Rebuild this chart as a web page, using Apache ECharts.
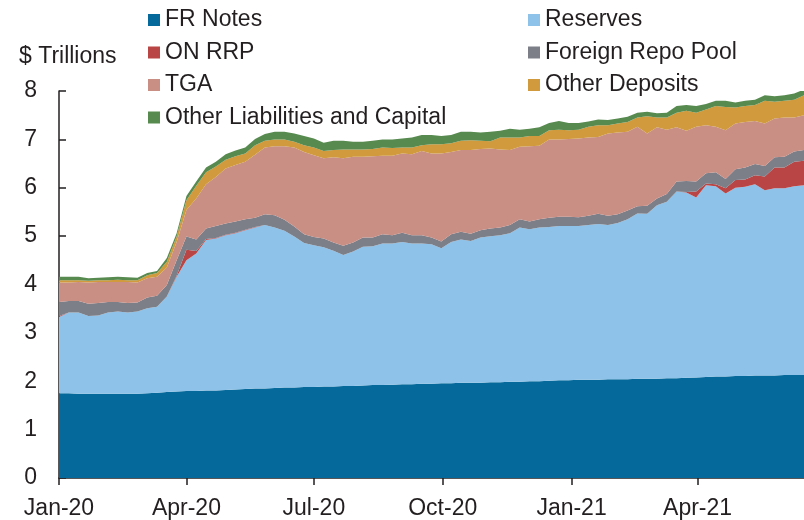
<!DOCTYPE html>
<html>
<head>
<meta charset="utf-8">
<script src="https://cdn.jsdelivr.net/npm/echarts@6/dist/echarts.min.js"></script>
<style>
  html, body { margin: 0; padding: 0; background: #fff; }
  #chart { width: 804px; height: 520px; }
</style>
</head>
<body>
<div id="chart"></div>
<script>
// weekly dates (Wednesdays)
var dates = [
  '2020-01-01','2020-01-08','2020-01-15','2020-01-22','2020-01-29','2020-02-05','2020-02-12','2020-02-19','2020-02-26',
  '2020-03-04','2020-03-11','2020-03-18','2020-03-25','2020-04-01','2020-04-08','2020-04-15','2020-04-22','2020-04-29',
  '2020-05-06','2020-05-13','2020-05-20','2020-05-27','2020-06-03','2020-06-10','2020-06-17','2020-06-24',
  '2020-07-01','2020-07-08','2020-07-15','2020-07-22','2020-07-29','2020-08-05','2020-08-12','2020-08-19','2020-08-26',
  '2020-09-02','2020-09-09','2020-09-16','2020-09-23','2020-09-30','2020-10-07','2020-10-14','2020-10-21','2020-10-28',
  '2020-11-04','2020-11-11','2020-11-18','2020-11-25','2020-12-02','2020-12-09','2020-12-16','2020-12-23','2020-12-30',
  '2021-01-06','2021-01-13','2021-01-20','2021-01-27','2021-02-03','2021-02-10','2021-02-17','2021-02-24',
  '2021-03-03','2021-03-10','2021-03-17','2021-03-24','2021-03-31','2021-04-07','2021-04-14','2021-04-21','2021-04-28',
  '2021-05-05','2021-05-12','2021-05-19','2021-05-26','2021-06-02','2021-06-09','2021-06-16'
];

// $ trillions
var frNotes = [
  1.75,1.75,1.74,1.74,1.74,1.74,1.74,1.74,1.74,
  1.75,1.76,1.78,1.79,1.80,1.80,1.81,1.81,1.82,1.83,1.84,
  1.85,1.85,1.86,1.87,1.87,1.88,1.88,1.89,1.89,1.90,
  1.90,1.91,1.92,1.92,1.93,1.94,1.94,1.95,1.95,1.96,
  1.96,1.97,1.97,1.97,1.98,1.98,1.99,1.99,2.00,2.00,
  2.01,2.02,2.02,2.03,2.03,2.03,2.04,2.04,2.04,2.05,
  2.05,2.05,2.06,2.06,2.07,2.08,2.09,2.10,2.10,2.11,
  2.11,2.12,2.12,2.12,2.13,2.13,2.13
];
var reserves = [
  1.58,1.67,1.68,1.61,1.62,1.68,1.70,1.68,1.70,1.76,
  1.78,1.97,2.37,2.70,2.84,3.11,3.14,3.20,3.23,3.28,
  3.33,3.38,3.32,3.24,3.12,2.98,2.93,2.88,2.81,2.71,
  2.78,2.87,2.87,2.93,2.92,2.94,2.91,2.90,2.88,2.79,
  2.92,2.96,2.93,3.00,3.02,3.04,3.07,3.19,3.14,3.18,
  3.18,3.19,3.19,3.18,3.20,3.22,3.19,3.23,3.31,3.42,
  3.41,3.59,3.65,3.86,3.83,3.72,3.96,3.93,3.78,3.89,
  3.91,3.95,3.83,3.87,3.86,3.90,3.92
];
var onRrp = [
  0.02,0,0,0,0,0,0,0,0,0,
  0,0,0.02,0.22,0.05,0.02,0.01,0.01,0.01,0.01,
  0.01,0,0,0,0,0,0,0,0,0,
  0,0,0,0,0,0,0,0,0,0,
  0,0,0,0,0,0,0,0,0,0,
  0,0,0,0,0,0,0,0,0,0,
  0,0,0,0,0.01,0.12,0.04,0.04,0.11,0.16,
  0.15,0.19,0.28,0.43,0.43,0.51,0.51
];
var foreignRepo = [
  0.29,0.24,0.24,0.25,0.26,0.22,0.20,0.20,0.19,0.22,
  0.23,0.24,0.32,0.27,0.24,0.22,0.25,0.23,0.23,0.22,
  0.19,0.22,0.25,0.23,0.21,0.18,0.17,0.18,0.17,0.19,
  0.19,0.19,0.18,0.19,0.17,0.19,0.17,0.17,0.14,0.14,
  0.16,0.16,0.15,0.15,0.16,0.16,0.17,0.17,0.16,0.17,
  0.19,0.19,0.19,0.18,0.19,0.21,0.19,0.18,0.18,0.15,
  0.17,0.14,0.16,0.21,0.23,0.21,0.21,0.25,0.19,0.22,
  0.25,0.23,0.22,0.21,0.22,0.21,0.22
];
var tga = [
  0.40,0.38,0.39,0.44,0.43,0.41,0.41,0.43,0.41,0.40,
  0.39,0.36,0.38,0.55,0.85,0.91,1.01,1.14,1.17,1.19,
  1.30,1.38,1.43,1.52,1.63,1.70,1.69,1.66,1.76,1.81,
  1.77,1.67,1.68,1.62,1.64,1.64,1.67,1.74,1.74,1.82,
  1.70,1.69,1.73,1.68,1.65,1.61,1.55,1.50,1.56,1.52,
  1.62,1.60,1.61,1.63,1.62,1.59,1.70,1.69,1.63,1.64,
  1.49,1.47,1.33,1.12,1.04,1.13,0.99,0.94,1.01,0.95,
  0.94,0.89,0.88,0.80,0.81,0.70,0.72
];
var otherDeposits = [
  0.05,0.05,0.04,0.04,0.04,0.04,0.05,0.04,0.05,0.06,
  0.08,0.12,0.11,0.20,0.26,0.25,0.22,0.18,0.18,0.17,
  0.20,0.14,0.14,0.14,0.12,0.14,0.16,0.15,0.15,0.18,
  0.15,0.15,0.15,0.17,0.16,0.12,0.14,0.12,0.19,0.19,
  0.18,0.19,0.20,0.17,0.15,0.25,0.26,0.19,0.21,0.20,
  0.19,0.20,0.18,0.18,0.22,0.24,0.17,0.19,0.20,0.19,
  0.36,0.20,0.25,0.30,0.41,0.29,0.33,0.43,0.48,0.33,
  0.33,0.33,0.47,0.35,0.35,0.37,0.41
];
var otherLiab = [
  0.07,0.07,0.07,0.05,0.05,0.06,0.06,0.06,0.05,0.05,
  0.04,0.08,0.07,0.09,0.09,0.10,0.10,0.11,0.12,0.12,
  0.13,0.14,0.16,0.16,0.17,0.19,0.19,0.17,0.19,0.18,
  0.16,0.16,0.17,0.17,0.18,0.19,0.21,0.21,0.19,0.17,
  0.17,0.19,0.18,0.17,0.20,0.14,0.18,0.16,0.15,0.18,
  0.15,0.18,0.15,0.14,0.11,0.12,0.11,0.10,0.11,0.10,
  0.09,0.09,0.10,0.14,0.12,0.14,0.11,0.11,0.13,0.10,
  0.11,0.11,0.11,0.11,0.11,0.13,0.12
];

var tickDates = ['2020-01-01', '2020-04-01', '2020-07-01', '2020-10-01', '2021-01-01', '2021-04-01'];
var monthNames = ['Jan','Feb','Mar','Apr','May','Jun','Jul','Aug','Sep','Oct','Nov','Dec'];

var font = "'Liberation Sans', Arial, sans-serif";
var textColor = '#231f20';

function toTime(s) {
  var p = s.split('-');
  return Date.UTC(+p[0], +p[1] - 1, +p[2]);
}

var seriesDefs = [
  {name: 'FR Notes', data: frNotes, color: '#05699b'},
  {name: 'Reserves', data: reserves, color: '#8ec2e8'},
  {name: 'ON RRP', data: onRrp, color: '#b94545'},
  {name: 'Foreign Repo Pool', data: foreignRepo, color: '#7c7e88'},
  {name: 'TGA', data: tga, color: '#c98f85'},
  {name: 'Other Deposits', data: otherDeposits, color: '#d09a3d'},
  {name: 'Other Liabilities and Capital', data: otherLiab, color: '#578a4f'}
];

var chart = echarts.init(document.getElementById('chart'), null, {renderer: 'canvas'});

var tickValues = tickDates.map(toTime);
var xMin = toTime('2020-01-01');
var xMax = toTime('2021-06-16');

var legendCommon = {
  orient: 'vertical',
  top: 3,
  icon: 'rect',
  itemWidth: 12,
  itemHeight: 12,
  itemGap: 8.5,
  selectedMode: false,
  textStyle: {fontFamily: font, fontSize: 23, color: textColor, lineHeight: 24}
};

var option = {
  animation: false,
  backgroundColor: '#fff',
  color: seriesDefs.map(function (s) { return s.color; }),
  title: {
    text: '$ Trillions',
    left: 14,
    top: 40,
    textStyle: {fontFamily: font, fontSize: 23, fontWeight: 'normal', color: textColor}
  },
  legend: [
    Object.assign({left: 143, data: ['FR Notes', 'ON RRP', 'TGA', 'Other Liabilities and Capital']}, legendCommon),
    Object.assign({left: 523, data: ['Reserves', 'Foreign Repo Pool', 'Other Deposits']}, legendCommon)
  ],
  grid: {left: 59, right: -2, top: 91, bottom: 42, containLabel: false},
  xAxis: [{
    // time axis carries the stacked areas
    type: 'time',
    min: xMin,
    max: xMax,
    axisLine: {show: false},
    axisTick: {show: false},
    axisLabel: {show: false},
    splitLine: {show: false}
  }, {
    // same range, used for the quarterly ticks and labels
    type: 'value',
    position: 'bottom',
    min: xMin,
    max: xMax,
    axisLine: {show: true, lineStyle: {color: textColor, width: 1.5}},
    axisTick: {show: true, length: 7, customValues: tickValues, lineStyle: {color: textColor, width: 1.5}},
    axisLabel: {
      customValues: tickValues,
      margin: 19,
      fontFamily: font,
      fontSize: 23,
      color: textColor,
      formatter: function (val) {
        var d = new Date(val);
        return monthNames[d.getUTCMonth()] + '-' + String(d.getUTCFullYear()).slice(2);
      }
    },
    splitLine: {show: false}
  }],
  yAxis: {
    type: 'value',
    min: 0,
    max: 8,
    interval: 1,
    axisLine: {show: true, lineStyle: {color: textColor, width: 1.5}},
    axisTick: {show: true, inside: true, length: 7, lineStyle: {color: textColor, width: 1.5}},
    axisLabel: {margin: 22, fontFamily: font, fontSize: 23, color: textColor},
    splitLine: {show: false}
  },
  series: seriesDefs.map(function (s) {
    return {
      name: s.name,
      type: 'line',
      xAxisIndex: 0,
      stack: 'total',
      symbol: 'none',
      lineStyle: {width: 0},
      areaStyle: {color: s.color, opacity: 1},
      itemStyle: {color: s.color},
      data: dates.map(function (d, i) { return [toTime(d), s.data[i]]; })
    };
  })
};

chart.setOption(option);
</script>
</body>
</html>
